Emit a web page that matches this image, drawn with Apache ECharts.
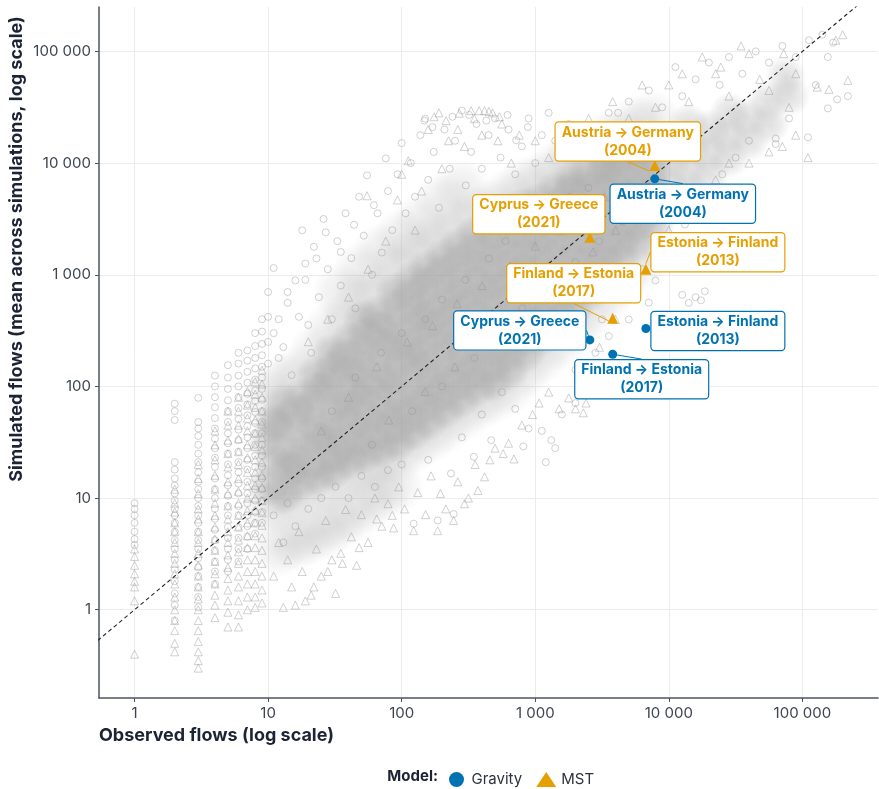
<!DOCTYPE html>
<html><head><meta charset="utf-8">
<script src="https://cdn.jsdelivr.net/npm/echarts@6/dist/echarts.min.js"></script>
<style>html,body{margin:0;padding:0;background:#fff}#chart{width:879px;height:789px}</style>
</head><body><div id="chart"></div>
<script>
// ---------- highlighted flows ----------
const pairNames = ['Austria \u2192 Germany', 'Cyprus \u2192 Greece', 'Estonia \u2192 Finland', 'Finland \u2192 Estonia'];
const pairYears = [2004, 2021, 2013, 2017];
const observedFlows = [7850, 2560, 6730, 3800];
const gravitySimulated = [7230, 261, 330, 194];
const mstSimulated = [9510, 2170, 1120, 408];

// ---------- axis ticks ----------
const xTickValues = [1, 10, 100, 1000, 10000, 100000];
const yTickValues = [1, 10, 100, 1000, 10000, 100000];

// ---------- background cloud ----------
const columnObserved = [1, 2, 3, 4, 5, 6, 7, 8, 9];
const gravityColumnSims = [
 [9, 8, 7, 6, 5, 4.3, 3.8],
 [70, 60, 50, 21, 18, 15, 13, 11, 9.5, 8, 7, 6, 5, 4.2, 3.5, 2.8, 2.3, 1.8, 1.4, 1.1, 0.8],
 [79, 48, 42, 36, 30, 25, 21, 17, 14, 12, 10, 8.5, 7, 6, 5, 4.2, 3.5, 2.9, 2.4, 2, 1.6, 1.3, 1.05],
 [125, 100, 80, 65, 52, 42, 34, 28, 23, 19, 15, 12, 10, 8, 6.5, 5.2, 4.2, 3.4, 2.7, 2.2, 1.7],
 [155, 120, 95, 75, 60, 48, 38, 31, 25, 20, 16, 13, 10.5, 8.5, 7, 5.5, 4.4, 3.5, 2.8, 2.2],
 [200, 160, 125, 100, 80, 64, 51, 41, 33, 26, 21, 17, 13.5, 11, 8.5, 7, 5.5, 4.4, 3.5, 2.7],
 [210, 170, 135, 108, 86, 69, 55, 44, 35, 28, 22, 18, 14, 11, 9, 7, 5.6, 4.5, 3.5],
 [300, 230, 180, 145, 115, 92, 74, 59, 47, 38, 30, 24, 19, 15, 12, 9.5, 7.5, 6, 4.8],
 [400, 310, 240, 190, 150, 120, 95, 76, 60, 48, 38, 30, 24, 19, 15, 12, 9.5, 7.5, 6]
];
const mstColumnSims = [
 [3.5, 3, 2.5, 2.1, 1.8, 1.6, 1.2, 0.4],
 [12, 9, 7.5, 6, 5, 4, 3.2, 2.6, 2.1, 1.7, 1.3, 1.0, 0.8, 0.65, 0.5, 0.42],
 [20, 15, 11, 8, 6.5, 5, 4, 3.2, 2.5, 2, 1.6, 1.25, 1, 0.8, 0.65, 0.52, 0.42, 0.35, 0.3],
 [40, 30, 22, 16, 12, 9, 7, 5.5, 4.3, 3.4, 2.7, 2.1, 1.7, 1.35, 1.1, 0.85],
 [60, 45, 33, 25, 19, 14, 11, 8.5, 6.5, 5, 4, 3.1, 2.4, 1.9, 1.5, 1.2, 0.95, 0.7],
 [80, 60, 45, 34, 26, 20, 15, 11.5, 9, 7, 5.5, 4.2, 3.3, 2.6, 2, 1.6, 1.2, 0.9, 0.7],
 [90, 68, 52, 40, 30, 23, 17, 13, 10, 7.7, 6, 4.6, 3.6, 2.8, 2.2, 1.7, 1.3, 1.0],
 [110, 85, 65, 50, 38, 29, 22, 17, 13, 10, 7.8, 6, 4.6, 3.6, 2.8, 2.2, 1.7, 1.3, 1.05],
 [140, 105, 80, 60, 46, 35, 27, 21, 16, 12.5, 9.5, 7.4, 5.7, 4.4, 3.4, 2.6, 2, 1.5, 1.15]
];
const gravityCloud = [
 [10,700],[10,420],[10,250],[10,160],[11,1150],[12,400],[13,225],[14,560],[15,126],[16,890],[18,2500],[19,1260],[20,355],[21,200],[22,1780],[24,630],[26,3160],[28,1120],[30,400],[33,2000],[35,800],[38,3550],[42,1410],[45,500],[48,5000],[52,2240],[55,7760],[60,1000],[66,3550],[71,1580],[76,11000],[79,5620],[85,2510],[93,7940],[100,15100],[107,3550],[117,10000],[126,5000],[138,17800],[148,24000],[158,7080],[174,12600],[190,3980],[209,20000],[229,8900],[251,15850],[282,29500],[302,6310],[331,12600],[363,22400],[398,8900],[447,17800],[500,25100],[550,11200],[631,20000],[708,7940],[794,14100],[891,25100],[1000,10000],[1120,17800],[1260,28200],[1410,15850],[1780,22400],[2240,12600],[2820,20000],[3550,28200],[4170,28200],[5010,35500],[6030,20000],[7080,44700],[8910,31600],[11200,72400],[12600,39800],[15850,56200],[19950,79400],[24000,50100],[28200,89100],[35500,63100],[44700,100000],[56200,79400],[70800,112000],[89100,89100],[112000,126000],[141000,141000],[155000,89100],[170000,120000],[182000,37200],[219000,39800],[155000,30900],[110000,17000],[63100,14800],[63100,16600],[79400,25100],[126000,50100],[39800,15850],[31600,11200],[25100,7940],[19950,5620],[15850,3980],[17400,590],[15850,630],[14100,560],[12600,660],[18600,710],[11200,2000],[8910,1260],[7940,890],[6310,1120],[13200,2820],[22400,3550],
 [11,7],[13,4],[14,9],[16,5.6],[20,8],[25,10],[32,12.6],[40,10],[50,15.8],[63,12.6],[79,17.8],[123,5.9],[186,6.3],[245,7.2],[234,16.6],[347,23.4],[468,33],[813,29],[1200,21],[1410,28],[1320,33],[891,42],[1120,40],[708,63],[1580,56],[2000,71],[2240,100],[2000,141],[2820,200],[3550,282],[5010,398],[7080,562],[3160,398],[562,89],[398,56],[282,35],[158,22],[100,20],
 [30,60],[45,120],[70,200],[100,300],[150,400],[200,600],[300,900],[450,1400],[600,2000],[900,2800],[1300,4000],[1800,5000],[2500,6000],[60,30],[120,60],[200,100],[350,180],[500,300],[800,500],[1200,800],[2000,1300],[3000,2000],[4500,3000],[6500,4500],
 [150,25000],[170,21000],[240,26000],[320,27000],[430,24000],[620,27000],[720,16000],[880,21000],[11,300],[12,180],[14,700],[17,420],[19,900],[23,1400],[27,2400],[35,1600],[44,2800],[62,4200]
];
const mstCloud = [
 [11,2],[12,4],[13,1.05],[14,2.8],[15,1.6],[17,5],[18,2.2],[19,1.2],[21,1.35],[23,3.5],[25,2],[27,6.3],[30,2.8],[32,1.4],[35,3.2],[38,7.9],[42,4.5],[46,2.5],[50,7.1],[56,4],[63,10],[71,5.6],[79,8.9],[87,5.4],[95,12.6],[105,8],[123,5.1],[132,11.2],[151,7.1],[166,15.8],[186,5.1],[195,11],[214,8],[245,6.3],[263,14],[295,8.9],[316,10],[355,20],[372,11.7],[417,15.5],[457,22],[500,28],[575,25],[631,31],[692,22.4],[794,45],[955,56],[1070,71],[1260,89],[1510,63],[1780,79],[2000,63],[2290,58],[2140,89],[2510,126],[2400,71],[3020,224],[3980,398],[7940,1780],[10000,2510],[12600,3550],[15850,5010],[22400,7080],[28200,10000],[39800,10000],[56200,12600],[110000,11200],[89100,17800],[70800,14100],
 [20,251],[28,400],[40,630],[56,1120],[55,5100],[76,2000],[93,4680],[100,7940],[112,10500],[126,2510],[141,5620],[158,20000],[190,28200],[200,8910],[224,15850],[263,20000],[295,14100],[331,29500],[380,29500],[398,17800],[417,29500],[479,28200],[525,15850],[562,22400],[661,10000],[759,17800],[1000,15850],[1260,11200],[1580,20000],[2000,14100],[2510,25100],[3160,17800],[3800,35500],[5010,25100],[6310,50100],[7940,31600],[10000,50100],[12600,63100],[14100,35500],[17800,89100],[22400,63100],[24500,72400],[28200,39800],[34700,112000],[39800,95500],[47900,56200],[56200,44700],[72400,95500],[89100,63100],[129000,47900],[158000,45700],[219000,55000],[178000,126000],[200000,141000],[79400,31600],
 [25,40],[40,80],[65,150],[110,250],[170,350],[260,550],[400,800],[650,1200],[1000,1800],[1500,2500],[2200,3500],[3300,5000],[80,50],[150,90],[250,150],[420,250],[700,400],[1100,700],[1700,1100],[2700,1600],[4000,2500],[6000,3600],
 [175,26000],[215,24000],[270,28000],[350,25000],[450,29000],[540,26000],[16,1.1],[22,1.6],[28,2.2],[36,2.6],[48,3.6],[65,6.5],[85,7]
];
// dense core of the cloud, where thousands of markers overlap
const cloudCoreDense = [
 [10,13],[11,20],[10,32],[11,48],
 [13,11],[14,18],[13,28],[12,45],[13,70],
 [17,14],[16,20],[18,28],[17,40],[16,56],[18,79],
 [23,16],[22,22],[24,32],[23,45],[21,63],[24,89],[23,125],
 [30,18],[31,25],[29,35],[30,50],[32,71],[29,100],[31,140],[30,195],
 [40,22],[38,32],[41,45],[39,63],[42,89],[40,126],[38,178],[41,250],
 [52,25],[50,35],[54,50],[51,71],[53,100],[50,141],[52,200],[55,282],[51,390],
 [69,28],[66,40],[71,56],[68,79],[70,112],[67,158],[72,224],[69,316],[66,440],
 [91,32],[88,45],[93,63],[90,89],[87,126],[94,178],[91,251],[89,355],[92,500],[90,700],
 [120,40],[115,56],[124,79],[118,112],[122,158],[117,224],[121,316],[125,447],[119,630],[122,890],
 [158,50],[152,71],[163,100],[157,141],[150,200],[161,282],[155,398],[160,562],[154,794],[158,1120],
 [209,63],[200,89],[214,126],[205,178],[211,251],[202,355],[210,501],[215,708],[204,1000],[208,1410],
 [275,79],[268,112],[282,158],[271,224],[278,316],[265,447],[280,631],[272,891],[277,1260],[270,1780],
 [363,100],[352,141],[370,200],[358,282],[366,398],[355,562],[372,794],[360,1122],[365,1585],[357,2240],
 [479,112],[466,158],[488,224],[472,316],[482,447],[468,631],[485,891],[475,1259],[480,1778],[470,2500],
 [631,141],[615,200],[642,282],[625,398],[636,562],[620,794],[640,1122],[628,1585],[634,2240],[622,3160],
 [832,200],[815,282],[845,398],[825,562],[838,794],[818,1122],[842,1585],[828,2239],[835,3162],[820,3980],
 [1096,282],[1070,398],[1110,562],[1085,794],[1100,1122],[1075,1585],[1105,2239],[1090,3162],[1080,4470],
 [1445,355],[1410,501],[1470,708],[1430,1000],[1455,1413],[1420,1995],[1460,2818],[1440,3981],[1425,5620],
 [1905,501],[1860,708],[1940,1000],[1885,1413],[1920,1995],[1870,2818],[1930,3981],[1895,5623],[1910,7080],
 [2512,708],[2450,1000],[2560,1413],[2490,1995],[2530,2818],[2470,3981],[2550,5623],[2500,7940],
 [3311,1000],[3230,1413],[3370,1995],[3280,2818],[3340,3981],[3250,5623],[3360,7943],[3300,10000],
 [4365,1413],[4260,1995],[4440,2818],[4320,3981],[4400,5623],[4290,7943],[4380,11200],
 [5754,1995],[5620,2818],[5850,3981],[5700,5623],[5800,7943],[5650,11220],[5780,14100],
 [7586,2818],[7400,3981],[7700,5623],[7500,7943],[7650,11220],[7450,15850]
];
const cloudCoreLight = [
 [10000,3981],[9750,6310],[10200,10000],[9900,15850],[14125,5623],[13800,8913],[14400,14125],[14000,22400],
 [19950,7943],[19500,12590],[20300,19950],[28180,11220],[27500,17780],[28700,28180],[39800,15850],[38900,25120],
 [56230,22390],[55000,35480],[80000,40000],[75000,60000]
];
// thinner haze of overlapping markers around the core
const cloudFringe = [
 [10,80],[13,110],[17,130],[23,200],[30,320],[40,400],[52,630],[69,700],[91,1100],[120,1400],[158,1800],[209,2200],[275,2800],[363,3500],[479,4000],[631,5000],[832,6300],[1096,7000],[1445,8900],[1905,11000],[2512,12600],[3311,15800],[4365,17800],[5754,22400],[7586,25000],
 [10,8],[13,8.5],[17,10],[23,11],[30,13],[40,16],[52,18],[69,21],[91,24],[120,30],[158,36],[209,45],[275,56],[363,70],[479,82],[631,100],[832,140],[1096,190],[1445,250],[1905,340],[2512,470],[3311,650],[4365,900],[5754,1300],[7586,1800],
 [12,3.5],[16,4],[20,4.5],[26,5],[33,6],[42,7],[55,9],[70,11],[90,13],
 [35,700],[50,1100],[70,1600],[100,2200],[140,3000],[200,4500],[280,6000]
];
const identityLine = [[0.1, 0.1], [1000000, 1000000]];

// ---------- layout (pixels) ----------
const gravityLabelOffsets = [[28, 25], [-70, -9.5], [72, 2.5], [29, 25]];
const mstLabelOffsets = [[-27, -24], [-51, -23], [72, -17], [-39, -35]];

// ---------- build ----------
const columnGravity = [], columnMst = [];
columnObserved.forEach((x, i) => {
  gravityColumnSims[i].forEach(y => columnGravity.push([x, y]));
  mstColumnSims[i].forEach(y => columnMst.push([x, y]));
});
const GRAVITY = '#0072B2', MST = '#E69F00';
const FONT = 'Inter, "Noto Sans", sans-serif';
const fmt = v => String(Math.round(v)).replace(/\B(?=(\d{3})+(?!\d))/g, ' ');
const labelText = p => pairNames[p.dataIndex] + '\n(' + pairYears[p.dataIndex] + ')';
function layoutFrom(offsets) {
  return function (p) {
    const o = offsets[p.dataIndex];
    return { x: p.rect.x + p.rect.width / 2 + o[0], y: p.rect.y + p.rect.height / 2 + o[1], align: 'center', verticalAlign: 'middle' };
  };
}
function boxLabel(color) {
  return { show: true, formatter: labelText, color: color, fontFamily: FONT, fontWeight: 'bold', fontSize: 14,
    lineHeight: 18, align: 'center', backgroundColor: '#ffffff', borderColor: color, borderWidth: 1.2,
    borderRadius: 3, padding: [1, 6], opacity: 1 };
}
function haze(alpha) {
  return new echarts.graphic.RadialGradient(0.5, 0.5, 0.5, [
    { offset: 0, color: 'rgba(160,160,160,' + alpha + ')' },
    { offset: 0.55, color: 'rgba(160,160,160,' + (alpha * 0.6) + ')' },
    { offset: 1, color: 'rgba(160,160,160,0)' }
  ]);
}
const bgStroke = 'rgba(150,150,150,0.55)';
const axisColor = '#4d5560';
function makeAxis(ticks, min, max) {
  return {
    type: 'log', logBase: 10, min: min, max: max,
    axisLine: { show: true, onZero: false, lineStyle: { color: axisColor, width: 1.5 } },
    axisTick: { show: true, length: 4, inside: false, customValues: ticks, lineStyle: { color: axisColor, width: 1 } },
    axisLabel: { customValues: ticks, formatter: fmt, color: '#3d4450', fontFamily: FONT, fontSize: 15, margin: 8 },
    splitLine: { show: true, lineStyle: { color: '#ececec', width: 1 } },
    minorSplitLine: { show: false }
  };
}
const chart = echarts.init(document.getElementById('chart'), null, { renderer: 'canvas' });
chart.setOption({
  backgroundColor: '#ffffff',
  animation: false,
  grid: { left: 99, right: 1, top: 7, bottom: 91, containLabel: false },
  xAxis: makeAxis(xTickValues, 0.542, 368000),
  yAxis: makeAxis(yTickValues, 0.162, 250000),
  legend: {
    data: ['Gravity', 'MST'], left: 444, top: 767, itemWidth: 20, itemHeight: 15, itemGap: 14,
    textStyle: { color: '#2b3340', fontFamily: FONT, fontSize: 15 }
  },
  graphic: [
    { type: 'text', x: 438, y: 776, style: { text: 'Model:', fill: '#1c2333', font: 'bold 15px ' + FONT, align: 'right', verticalAlign: 'middle' } },
    { type: 'text', x: 99, y: 736, style: { text: 'Observed flows (log scale)', fill: '#1c2333', font: 'bold 18px ' + FONT, align: 'left', verticalAlign: 'middle' } },
    { type: 'text', x: 17, y: 249, rotation: Math.PI / 2, style: { text: 'Simulated flows (mean across simulations, log scale)', fill: '#1c2333', font: 'bold 18px ' + FONT, align: 'center', verticalAlign: 'middle' } }
  ],
  series: [
    { type: 'scatter', name: 'fringe', data: cloudFringe, symbol: 'circle', symbolSize: 58, silent: true, z: 1,
      itemStyle: { color: haze(0.2), opacity: 1 } },
    { type: 'scatter', name: 'coreDense', data: cloudCoreDense, symbol: 'circle', symbolSize: 42, silent: true, z: 1,
      itemStyle: { color: haze(0.52), opacity: 1 } },
    { type: 'scatter', name: 'coreLight', data: cloudCoreLight, symbol: 'circle', symbolSize: 42, silent: true, z: 1,
      itemStyle: { color: haze(0.34), opacity: 1 } },
    { type: 'scatter', name: 'bgGravity', data: columnGravity.concat(gravityCloud), symbol: 'circle', symbolSize: 7, silent: true, z: 2,
      itemStyle: { color: 'rgba(0,0,0,0)', borderColor: bgStroke, borderWidth: 0.8, opacity: 1 } },
    { type: 'scatter', name: 'bgMST', data: columnMst.concat(mstCloud), symbol: 'triangle', symbolSize: 8, silent: true, z: 2,
      itemStyle: { color: 'rgba(0,0,0,0)', borderColor: bgStroke, borderWidth: 0.8, opacity: 1 } },
    { type: 'line', name: 'identity', data: identityLine, symbol: 'none', silent: true, z: 3, clip: true,
      lineStyle: { color: '#222', width: 1.1, type: [4, 3] } },
    { type: 'scatter', name: 'Gravity', data: observedFlows.map((x, i) => [x, gravitySimulated[i]]), symbol: 'circle', symbolSize: 9, z: 5,
      itemStyle: { color: GRAVITY, opacity: 1 }, label: boxLabel(GRAVITY), labelLayout: layoutFrom(gravityLabelOffsets),
      labelLine: { show: true, lineStyle: { color: GRAVITY, width: 1, opacity: 1 } } },
    { type: 'scatter', name: 'MST', data: observedFlows.map((x, i) => [x, mstSimulated[i]]), symbol: 'triangle', symbolSize: 11, z: 5,
      itemStyle: { color: MST, opacity: 1 }, label: boxLabel(MST), labelLayout: layoutFrom(mstLabelOffsets),
      labelLine: { show: true, lineStyle: { color: MST, width: 1, opacity: 1 } } }
  ]
});
</script></body></html>
